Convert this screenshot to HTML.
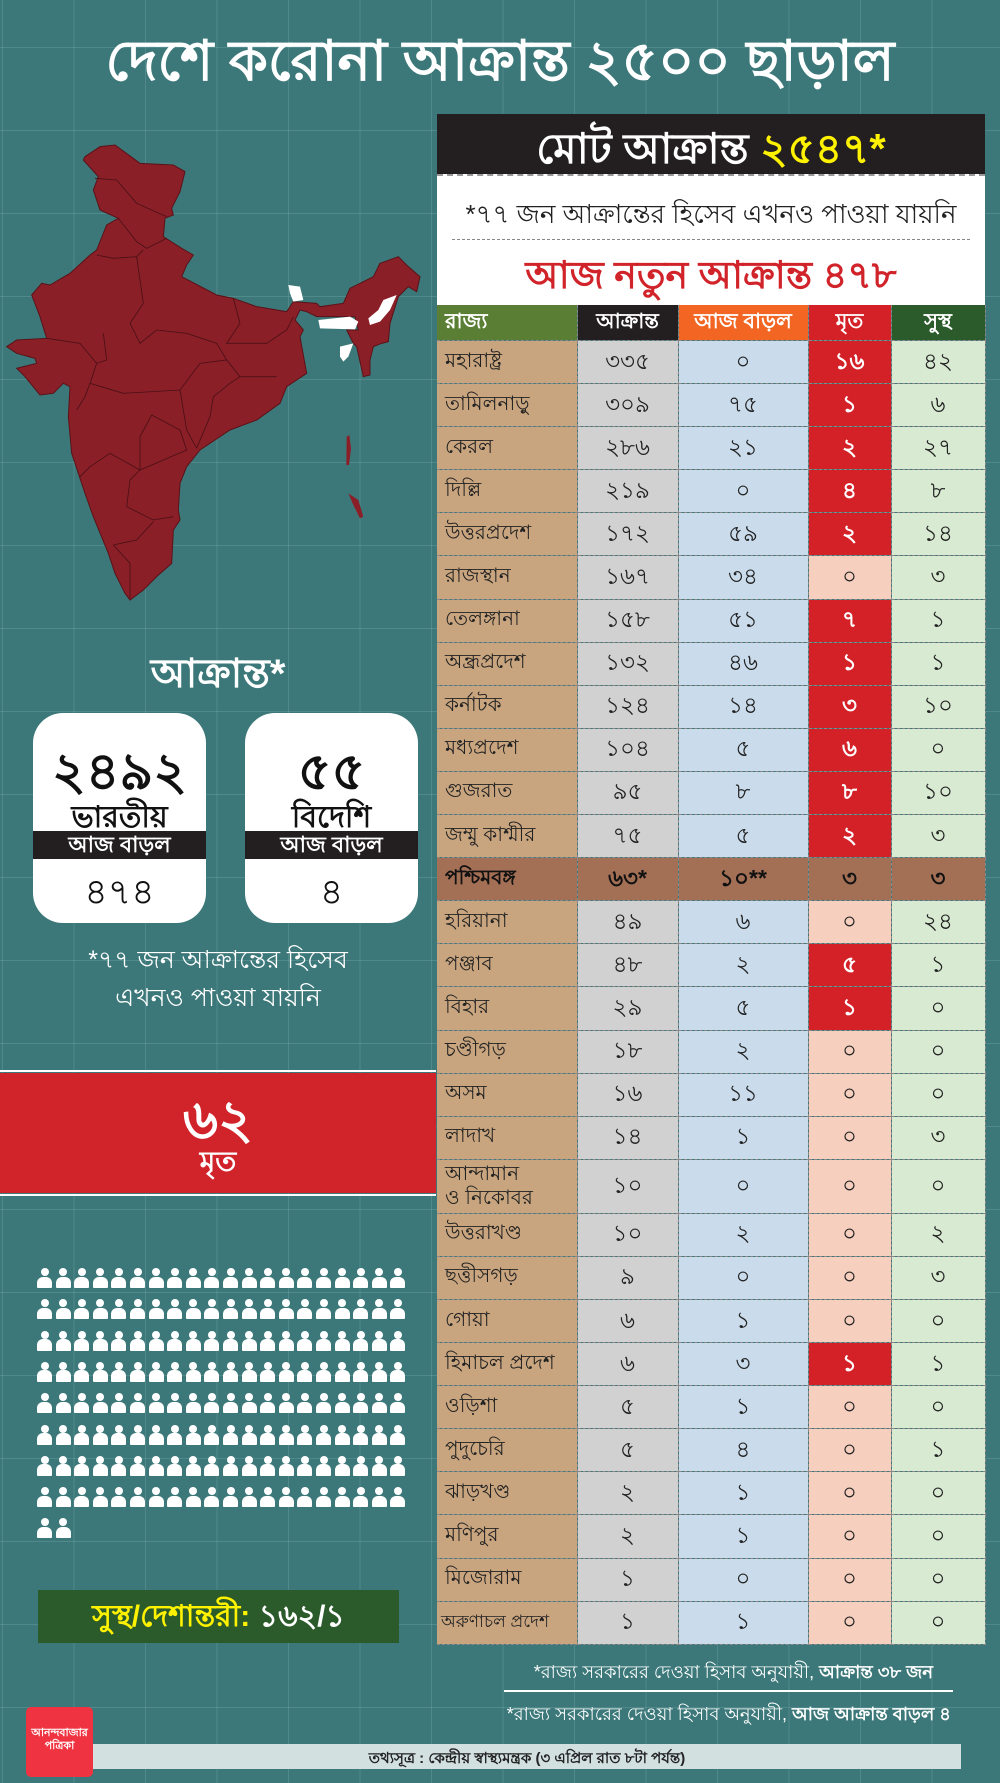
<!DOCTYPE html>
<html><head><meta charset="utf-8"><style>
*{margin:0;padding:0;box-sizing:border-box}
body{width:1000px;height:1783px;position:relative;overflow:hidden;font-family:"Liberation Sans",sans-serif;font-weight:bold;
background-color:#3c7879;
background-image:linear-gradient(90deg,rgba(120,170,170,.35) 1px,transparent 1px),linear-gradient(rgba(120,170,170,.35) 1px,transparent 1px);
background-size:71.5px 83px;background-position:2px 47px}
.a{position:absolute}
.c{text-align:center}
.card{background:#fff;border-radius:30px;width:173px;height:210px;top:713px}
.card .n{position:absolute;left:0;right:0;top:18px;font-size:52px;color:#111;text-align:center}
.card .l{position:absolute;left:0;right:0;top:80px;font-size:30px;color:#111;text-align:center}
.card .b{position:absolute;left:0;right:0;top:118px;height:28px;background:#231f20;color:#fff;font-size:22px;text-align:center;line-height:28px}
.card .v{position:absolute;left:0;right:0;top:152px;font-size:36px;color:#111;text-align:center;font-weight:normal}
table{border-collapse:collapse;position:absolute;left:437px;top:305px;width:548px;table-layout:fixed}
td{height:43.1px;font-size:23px;color:#222;text-align:center;border-bottom:1px dashed #888;border-right:1px dashed #888;padding:0;white-space:nowrap;overflow:hidden}
td:first-child{text-align:left;padding-left:8px;background:#c9a57f;font-weight:normal;font-size:20px}
td:nth-child(2){background:#d1d1d1;font-weight:normal}
td:nth-child(3){background:#cadcec;font-weight:normal}
td:nth-child(4){background:#f6cfbf;font-weight:normal}
td.r{background:#d42027!important;color:#fff;font-weight:bold}
td:nth-child(5){background:#d8ead2;font-weight:normal}
tr.h td{height:32px;color:#fff;font-size:21px;font-weight:bold}
tr.wb td{background:#a36f55!important;font-weight:bold;color:#111}
.p{position:absolute;width:15px;height:20px}
.p:before{content:"";position:absolute;left:3.5px;top:0;width:8px;height:8px;border-radius:50%;background:#fff}
.p:after{content:"";position:absolute;left:0;top:8.5px;width:15px;height:11.5px;border-radius:6px 6px 1px 1px;background:#fff}
</style></head><body>
<div class="a c" style="left:0;width:1000px;top:18px;font-size:56px;color:#fff">দেশে করোনা আক্রান্ত ২৫০০ ছাড়াল</div>

<svg class="a" style="left:0;top:130px" width="430" height="480" viewBox="0 0 1290 1440">
<path fill="#8b1f28" stroke="#5a1218" stroke-width="3" d="M255,80 L300,50 L345,45 L420,100 L520,105 L555,125 L540,185 L515,235 L520,255 L495,265 L490,320 L545,355 L580,375 L560,405 L545,440 L650,495 L700,505 L770,530 L860,545 L880,515 L950,520 L960,530 L1030,520 L1050,475 L1120,440 L1140,400 L1195,380 L1225,410 L1260,440 L1250,485 L1225,470 L1195,500 L1170,580 L1165,635 L1145,640 L1120,650 L1110,690 L1110,735 L1090,740 L1070,650 L1060,640 L1040,600 L1075,600 L1065,560 L960,560 L950,560 L920,545 L900,540 L885,570 L910,600 L900,620 L920,730 L860,770 L840,820 L770,870 L690,900 L600,960 L560,1010 L540,1060 L535,1140 L540,1170 L520,1200 L515,1300 L470,1340 L430,1380 L390,1410 L375,1390 L345,1330 L325,1270 L280,1160 L255,1090 L235,1030 L215,970 L205,860 L210,770 L190,760 L160,790 L120,795 L75,740 L50,715 L110,700 L105,685 L50,670 L20,650 L50,630 L140,625 L120,560 L95,495 L125,460 L150,465 L210,430 L270,375 L290,360 L320,285 L355,265 L300,240 L280,180 L295,140 L250,90 Z"/>
<g fill="none" stroke="#4a1015" stroke-width="2.5">
<path d="M285,145 L350,150 L410,220 L500,260"/><path d="M355,265 L410,335 L440,355 L500,325"/><path d="M290,375 L340,385 L410,380 L430,360"/><path d="M410,380 L430,520 L390,580 L420,640 L470,600 L560,610 L650,640 L680,690"/><path d="M700,505 L720,580 L680,640 L800,640 L860,600 L880,560"/><path d="M140,625 L240,640 L290,700 L270,760 L370,790 L540,780 L600,700 L680,690 L720,740 L830,740"/><path d="M270,760 L255,800 L230,840"/><path d="M540,780 L560,900 L590,955"/><path d="M720,740 L690,760 L640,800 L630,860 L590,955"/><path d="M455,855 L540,900 L560,960 L420,1020 L330,970 L270,1010 L240,1040"/><path d="M420,1020 L420,920 L455,855"/><path d="M420,1020 L390,1050 L380,1130 L460,1170 L520,1160"/><path d="M340,1245 L410,1230 L460,1175"/><path d="M340,1245 L390,1300 L390,1405"/><path d="M310,610 L320,690 L290,700"/></g>
<g fill="#fff"><path d="M865,465 L900,470 L910,510 L880,515 L870,490 Z"/><path d="M955,570 L1050,560 L1075,575 L1065,598 L960,595 Z"/><path d="M1190,495 L1170,540 L1140,575 L1110,585 L1105,565 L1135,540 L1150,510 Z"/><path d="M1020,650 L1060,640 L1045,680 L1030,695 L1020,680 Z"/></g>
<g fill="#8b1f28"><path d="M1040,920 l8,-5 l5,40 l-6,50 l-8,0 z"/><path d="M1045,1090 l30,20 l15,50 l-10,5 l-20,-40 z"/></g>
</svg>

<div class="a c" style="left:0;width:436px;top:642px;font-size:40px;color:#fff">আক্রান্ত*</div>
<div class="a card" style="left:33px"><div class="n">২৪৯২</div><div class="l">ভারতীয়</div><div class="b">আজ বাড়ল</div><div class="v">৪৭৪</div></div>
<div class="a card" style="left:245px"><div class="n">৫৫</div><div class="l">বিদেশি</div><div class="b">আজ বাড়ল</div><div class="v">৪</div></div>
<div class="a c" style="left:0;width:436px;top:941px;font-size:25px;color:#fff;font-weight:normal;line-height:38px">*৭৭ জন আক্রান্তের হিসেব<br>এখনও পাওয়া যায়নি</div>

<div class="a" style="left:0;top:1070px;width:436px;height:2px;background:#fff"></div>
<div class="a" style="left:0;top:1073px;width:436px;height:120px;background:#d1232a"></div>
<div class="a" style="left:0;top:1194px;width:436px;height:2px;background:#fff"></div>
<div class="a c" style="left:0;width:436px;top:1078px;font-size:54px;color:#fff">৬২</div>
<div class="a c" style="left:0;width:436px;top:1140px;font-size:28px;color:#fff">মৃত</div>

<div id="ppl"></div>
<script>
var h='';for(var i=0;i<162;i++){var r=Math.floor(i/20),c=i%20;h+='<div class="p" style="left:'+(37+c*18.6)+'px;top:'+(1268+r*31.3)+'px"></div>';}
document.getElementById('ppl').innerHTML=h;
</script>

<div class="a c" style="left:38px;top:1590px;width:361px;height:53px;background:#2b5a2b;font-size:30px;line-height:53px;color:#fff"><span style="color:#fff200">সুস্থ/দেশান্তরী:</span> ১৬২/১</div>

<div class="a" style="left:437px;top:114px;width:548px;height:60px;background:#231f20"></div>
<div class="a c" style="left:437px;top:116px;width:548px;font-size:42px;color:#fff">মোট আক্রান্ত <span style="color:#fff200">২৫৪৭*</span></div>
<div class="a" style="left:437px;top:174px;width:548px;height:131px;background:#fff;border-top:2px dashed #999"></div>
<div class="a c" style="left:437px;top:194px;width:548px;font-size:26px;color:#222;font-weight:normal">*৭৭ জন আক্রান্তের হিসেব এখনও পাওয়া যায়নি</div>
<div class="a" style="left:452px;top:239px;width:518px;border-top:1px dashed #888"></div>
<div class="a c" style="left:437px;top:246px;width:548px;font-size:38px;color:#d1232a">আজ নতুন আক্রান্ত ৪৭৮</div>

<table>
<colgroup><col style="width:140px"><col style="width:101px"><col style="width:130px"><col style="width:83px"><col style="width:94px"></colgroup>
<tr class="h"><td style="background:#5a7e34;font-weight:bold">রাজ্য</td><td style="background:#231f20;font-weight:bold">আক্রান্ত</td><td style="background:#f26522;font-weight:bold">আজ বাড়ল</td><td style="background:#d42027;font-weight:bold">মৃত</td><td style="background:#2b5a2b;font-weight:bold">সুস্থ</td></tr>
<tr><td>মহারাষ্ট্র</td><td>৩৩৫</td><td>০</td><td class="r">১৬</td><td>৪২</td></tr>
<tr><td>তামিলনাড়ু</td><td>৩০৯</td><td>৭৫</td><td class="r">১</td><td>৬</td></tr>
<tr><td>কেরল</td><td>২৮৬</td><td>২১</td><td class="r">২</td><td>২৭</td></tr>
<tr><td>দিল্লি</td><td>২১৯</td><td>০</td><td class="r">৪</td><td>৮</td></tr>
<tr><td>উত্তরপ্রদেশ</td><td>১৭২</td><td>৫৯</td><td class="r">২</td><td>১৪</td></tr>
<tr><td>রাজস্থান</td><td>১৬৭</td><td>৩৪</td><td>০</td><td>৩</td></tr>
<tr><td>তেলঙ্গানা</td><td>১৫৮</td><td>৫১</td><td class="r">৭</td><td>১</td></tr>
<tr><td>অন্ধ্রপ্রদেশ</td><td>১৩২</td><td>৪৬</td><td class="r">১</td><td>১</td></tr>
<tr><td>কর্নাটক</td><td>১২৪</td><td>১৪</td><td class="r">৩</td><td>১০</td></tr>
<tr><td>মধ্যপ্রদেশ</td><td>১০৪</td><td>৫</td><td class="r">৬</td><td>০</td></tr>
<tr><td>গুজরাত</td><td>৯৫</td><td>৮</td><td class="r">৮</td><td>১০</td></tr>
<tr><td>জম্মু কাশ্মীর</td><td>৭৫</td><td>৫</td><td class="r">২</td><td>৩</td></tr>
<tr class="wb"><td>পশ্চিমবঙ্গ</td><td>৬৩*</td><td>১০**</td><td>৩</td><td>৩</td></tr>
<tr><td>হরিয়ানা</td><td>৪৯</td><td>৬</td><td>০</td><td>২৪</td></tr>
<tr><td>পঞ্জাব</td><td>৪৮</td><td>২</td><td class="r">৫</td><td>১</td></tr>
<tr><td>বিহার</td><td>২৯</td><td>৫</td><td class="r">১</td><td>০</td></tr>
<tr><td>চণ্ডীগড়</td><td>১৮</td><td>২</td><td>০</td><td>০</td></tr>
<tr><td>অসম</td><td>১৬</td><td>১১</td><td>০</td><td>০</td></tr>
<tr><td>লাদাখ</td><td>১৪</td><td>১</td><td>০</td><td>৩</td></tr>
<tr><td style="height:54px;line-height:24px;white-space:normal">আন্দামান<br>ও নিকোবর</td><td>১০</td><td>০</td><td>০</td><td>০</td></tr>
<tr><td>উত্তরাখণ্ড</td><td>১০</td><td>২</td><td>০</td><td>২</td></tr>
<tr><td>ছত্তীসগড়</td><td>৯</td><td>০</td><td>০</td><td>৩</td></tr>
<tr><td>গোয়া</td><td>৬</td><td>১</td><td>০</td><td>০</td></tr>
<tr><td>হিমাচল প্রদেশ</td><td>৬</td><td>৩</td><td class="r">১</td><td>১</td></tr>
<tr><td>ওড়িশা</td><td>৫</td><td>১</td><td>০</td><td>০</td></tr>
<tr><td>পুদুচেরি</td><td>৫</td><td>৪</td><td>০</td><td>১</td></tr>
<tr><td>ঝাড়খণ্ড</td><td>২</td><td>১</td><td>০</td><td>০</td></tr>
<tr><td>মণিপুর</td><td>২</td><td>১</td><td>০</td><td>০</td></tr>
<tr><td>মিজোরাম</td><td>১</td><td>০</td><td>০</td><td>০</td></tr>
<tr><td style="font-size:17px;padding-left:4px">অরুণাচল প্রদেশ</td><td>১</td><td>১</td><td>০</td><td>০</td></tr>
</table>

<div class="a" style="left:437px;top:1658px;width:496px;text-align:right;font-size:18px;color:#fff;font-weight:normal">*রাজ্য সরকারের দেওয়া হিসাব অনুযায়ী, <b>আক্রান্ত ৩৮ জন</b></div>
<div class="a" style="left:504px;top:1690px;width:449px;height:2px;background:#fff"></div>
<div class="a" style="left:437px;top:1700px;width:514px;text-align:right;font-size:18px;color:#fff;font-weight:normal">*রাজ্য সরকারের দেওয়া হিসাব অনুযায়ী, <b>আজ আক্রান্ত বাড়ল ৪</b></div>

<div class="a" style="left:93px;top:1744px;width:868px;height:25px;background:#d3e0e0"></div>
<div class="a c" style="left:93px;top:1747px;width:868px;font-size:15px;color:#222">তথ্যসূত্র : কেন্দ্রীয় স্বাস্থ্যমন্ত্রক (৩ এপ্রিল রাত ৮টা পর্যন্ত)</div>
<div class="a c" style="left:26px;top:1707px;width:67px;height:70px;background:#ef3340;border-radius:5px;color:#fff;font-size:11px;padding-top:20px;line-height:13px">আনন্দবাজার<br>পত্রিকা</div>
</body></html>
